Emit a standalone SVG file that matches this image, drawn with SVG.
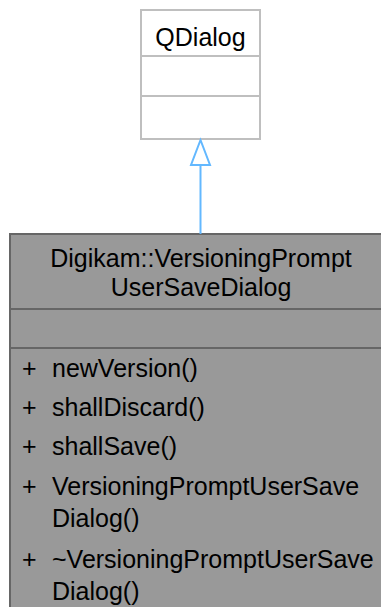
<svg xmlns="http://www.w3.org/2000/svg" width="381" height="607" viewBox="0 0 381 607">
<style>
text{font-family:"Liberation Sans",Arial,sans-serif;font-size:25px;fill:#000}
.mid{text-anchor:middle}
.base{fill:#fff;stroke:#bfbfbf;stroke-width:2}
.main{fill:#999;stroke:#666;stroke-width:2}
.edge{stroke:#63b8ff;stroke-width:2;fill:none}
</style>
<g id="node-qdialog">
<rect class="base" x="141" y="10" width="119" height="129"/>
<line class="base" x1="141" y1="56" x2="260" y2="56"/>
<line class="base" x1="141" y1="96" x2="260" y2="96"/>
<text class="mid" x="200.5" y="46">QDialog</text>
</g>
<g id="node-main">
<rect class="main" x="10" y="234" width="382" height="385"/>
<line class="main" x1="10" y1="309" x2="392" y2="309"/>
<line class="main" x1="10" y1="348" x2="392" y2="348"/>
<text class="mid" x="201" y="267">Digikam::VersioningPrompt</text>
<text class="mid" x="201" y="296">UserSaveDialog</text>
<text x="22" y="377">+</text><text x="52" y="377">newVersion()</text>
<text x="22" y="416">+</text><text x="52" y="416">shallDiscard()</text>
<text x="22" y="455">+</text><text x="52" y="455">shallSave()</text>
<text x="22" y="495">+</text><text x="52" y="495">VersioningPromptUserSave</text>
<text x="52" y="527">Dialog()</text>
<text x="22" y="568">+</text><text x="52" y="568">~VersioningPromptUserSave</text>
<text x="52" y="600">Dialog()</text>
</g>
<g id="connectors">
<line class="edge" x1="200.5" y1="234" x2="200.5" y2="165"/>
<polygon class="edge" points="200.5,140 191,165 210,165"/>
</g>
</svg>
